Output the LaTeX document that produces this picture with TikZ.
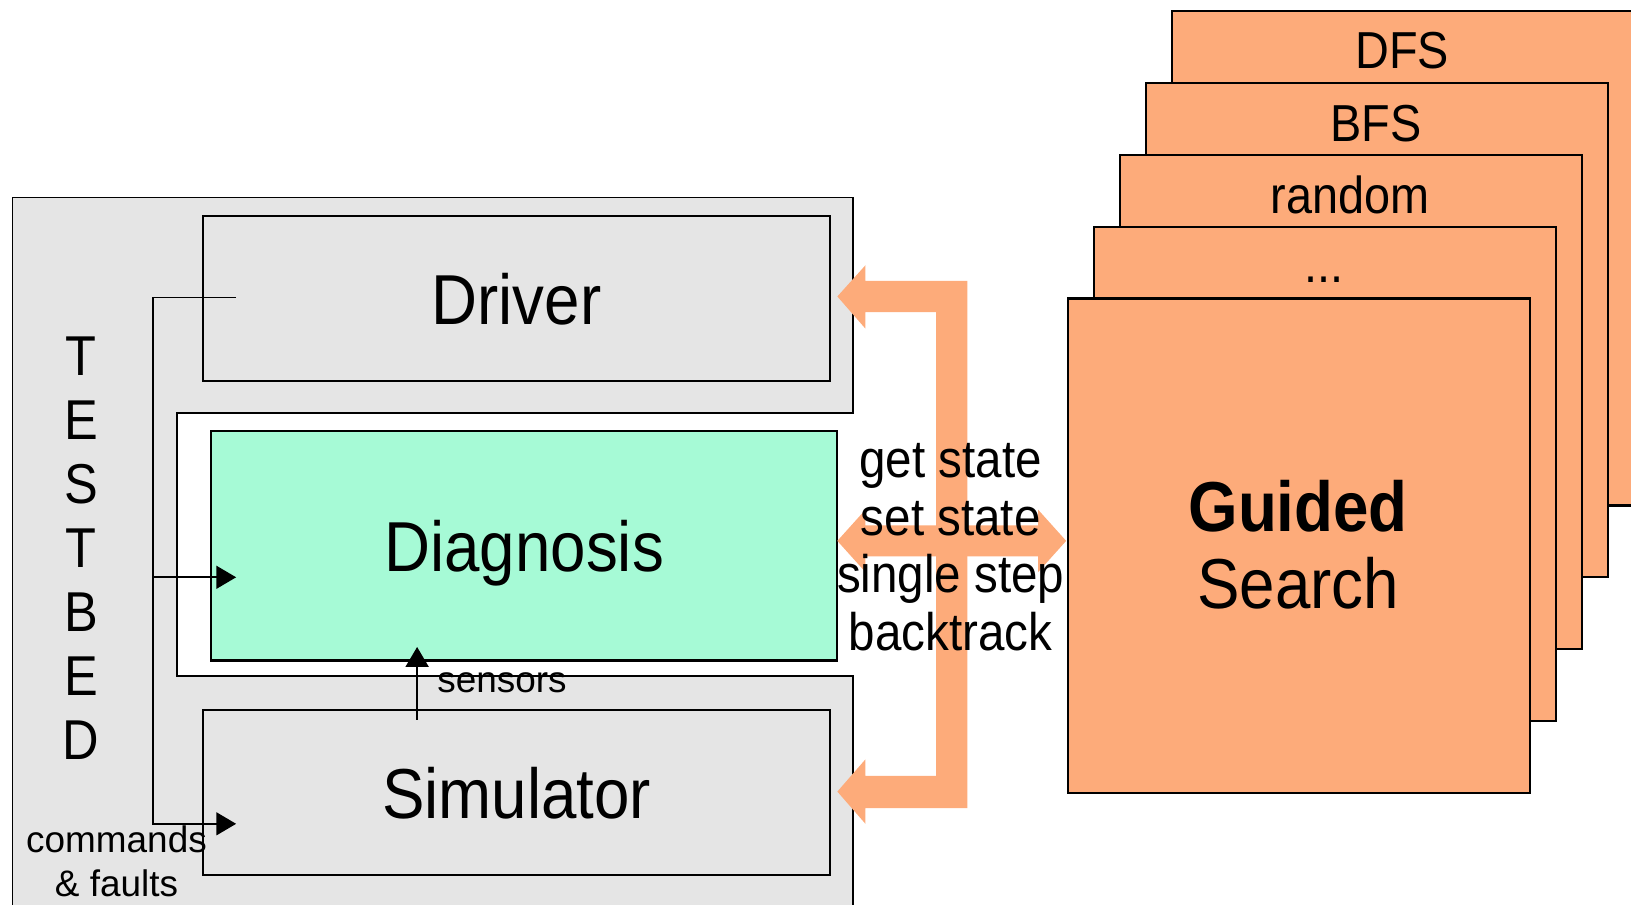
\documentclass[tikz,border=0pt]{standalone}
\usepackage{fontspec}
\setmainfont{Liberation Sans}[FakeStretch=0.9]
\newfontfamily\labelfont{Liberation Sans}
\usetikzlibrary{arrows.meta}
\definecolor{bedgray}{RGB}{229,229,229}
\definecolor{diagmint}{RGB}{166,250,214}
\definecolor{searchorange}{RGB}{253,171,122}
\begin{document}
\begin{tikzpicture}[x=0.5pt,y=-0.5pt,
  comp/.style={draw=black, line width=1pt, fill=bedgray, anchor=north west,
    inner sep=0pt, minimum width=301.5pt, minimum height=79pt, text depth=0pt,
    font=\fontsize{34}{40}\selectfont},
  stackbox/.style={draw=black, line width=1pt, fill=searchorange, anchor=north west,
    inner sep=0pt, minimum width=222pt, minimum height=237.5pt},
  stacklabel/.style={anchor=base, inner sep=0pt, font=\fontsize{25}{30}\selectfont},
  wire/.style={line width=0.8pt, -{Triangle[length=9.5pt,width=11pt]}},
  smalltext/.style={inner sep=0pt, font=\labelfont\fontsize{17.75}{21.5}\selectfont},
  bigarrow/.style={fill=searchorange, draw=none}]
\useasboundingbox (0,0) rectangle (1568,870);
\clip (0,0) rectangle (1568,870);

% testbed frame with the notch around the diagnosis engine
\draw[line width=0.8pt, fill=bedgray]
  (12,190) -- (820,190) -- (820,397) -- (170,397) -- (170,650)
  -- (820,650) -- (820,900) -- (12,900) -- cycle;

\node[comp] (driver) at (194,207) {Driver};
\node[comp, fill=diagmint, minimum width=301pt, minimum height=110.5pt]
  (diag) at (202,413) {Diagnosis};
\node[comp] (sim) at (194,682) {Simulator};

\node[inner sep=0pt, align=center, font=\fontsize{27}{30.75}\selectfont]
  (testbed) at (78,527) {T\\E\\S\\T\\B\\E\\D};

% command bus from the driver to diagnosis and simulator
\coordinate (cmdsrc) at (227,286);
\coordinate (bustop) at (147,286);
\coordinate (busmid) at (147,555);
\coordinate (busbot) at (147,792);
\coordinate (diagin) at (227,555);
\coordinate (simin) at (227,792);
\draw[wire] (cmdsrc) -- (bustop) -- (busbot) -- (simin);
\draw[wire] (busmid) -- (diagin);

% sensor readings from the simulator into diagnosis
\coordinate (sensfrom) at (401,692);
\coordinate (sensto) at (401,622);
\draw[wire] (sensfrom) -- (sensto);

\node[smalltext, anchor=base west] (sensors) at (420,666) {sensors};
\node[smalltext, align=center] (cmds) at (112,828) {commands\\\& faults};

% stack of search strategies, back to front
\node[stackbox] (dfs) at (1126,10) {};
\node[stacklabel] (dfslbl) at (1348,66) {DFS};
\node[stackbox] (bfs) at (1101,79) {};
\node[stacklabel] (bfslbl) at (1323,136) {BFS};
\node[stackbox] (rand) at (1076,148) {};
\node[stacklabel] (randlbl) at (1298,205) {random};
\node[stackbox] (more) at (1051,217) {};
\node[stacklabel] (morelbl) at (1273,272) {...};
\node[stackbox] (guided) at (1026,286) {};
\node[anchor=base, inner sep=0pt, font=\fontsize{34}{40}\selectfont\bfseries]
  (guidedlbl) at (1248,511) {Guided};
\node[anchor=base, inner sep=0pt, font=\fontsize{34}{40}\selectfont]
  (searchlbl) at (1248,585) {Search};

% control interface between the search and the testbed
\fill[bigarrow] (805,285) -- (832,255) -- (832,270) -- (930,270) -- (930,777)
  -- (832,777) -- (832,792) -- (805,761) -- (832,730) -- (832,746)
  -- (900,746) -- (900,300) -- (832,300) -- (832,316) -- cycle;
\fill[bigarrow] (805,520) -- (832,490) -- (832,505) -- (998,505) -- (998,490)
  -- (1025,520) -- (998,550) -- (998,535) -- (832,535) -- (832,550) -- cycle;

\node[inner sep=0pt, align=center, font=\fontsize{25.4}{27.8}\selectfont]
  (ops) at (914,526) {get state\\set state\\single step\\backtrack};
\end{tikzpicture}
\end{document}
